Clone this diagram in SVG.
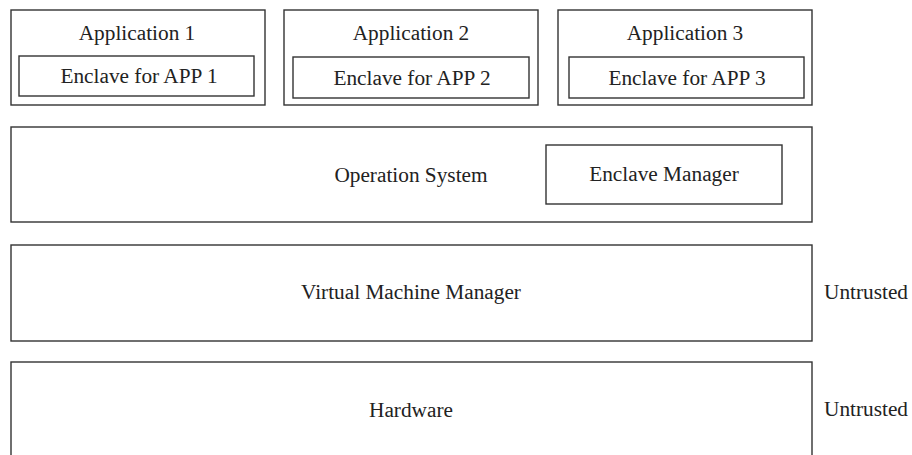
<svg xmlns="http://www.w3.org/2000/svg" width="912" height="455" viewBox="0 0 912 455">
  <style>
    .box { fill: none; stroke: #333; stroke-width: 1.4; }
    .lbl { font-family: "Liberation Serif", "Times New Roman", serif; font-size: 21.3px; fill: #222; text-anchor: middle; }
    .side { font-family: "Liberation Serif", "Times New Roman", serif; font-size: 21.3px; fill: #222; }
  </style>
  <rect width="912" height="455" fill="#fff"/>

  <g id="app1">
    <rect class="box" x="11" y="10" width="254" height="95"/>
    <text class="lbl" x="137" y="40">Application 1</text>
    <g id="enclave1">
      <rect class="box" x="19" y="56" width="235" height="40"/>
      <text class="lbl" x="139" y="83">Enclave for APP 1</text>
    </g>
  </g>

  <g id="app2">
    <rect class="box" x="284" y="10" width="254" height="95"/>
    <text class="lbl" x="411" y="40">Application 2</text>
    <g id="enclave2">
      <rect class="box" x="293" y="57" width="236" height="41"/>
      <text class="lbl" x="412" y="85">Enclave for APP 2</text>
    </g>
  </g>

  <g id="app3">
    <rect class="box" x="558" y="10" width="254" height="95"/>
    <text class="lbl" x="685" y="40">Application 3</text>
    <g id="enclave3">
      <rect class="box" x="569" y="57" width="235" height="41"/>
      <text class="lbl" x="687" y="85">Enclave for APP 3</text>
    </g>
  </g>

  <g id="os">
    <rect class="box" x="11" y="127" width="801" height="95"/>
    <text class="lbl" x="411" y="182">Operation System</text>
    <g id="enclave-manager">
      <rect class="box" x="546" y="145" width="236" height="59"/>
      <text class="lbl" x="664" y="181">Enclave Manager</text>
    </g>
  </g>

  <g id="vmm">
    <rect class="box" x="11" y="245" width="801" height="96"/>
    <text class="lbl" x="411" y="299">Virtual Machine Manager</text>
    <text class="side" x="824" y="299">Untrusted</text>
  </g>

  <g id="hardware">
    <rect class="box" x="11" y="362" width="801" height="110"/>
    <text class="lbl" x="411" y="417">Hardware</text>
    <text class="side" x="824" y="416">Untrusted</text>
  </g>

  <g id="connectors"></g>
</svg>
